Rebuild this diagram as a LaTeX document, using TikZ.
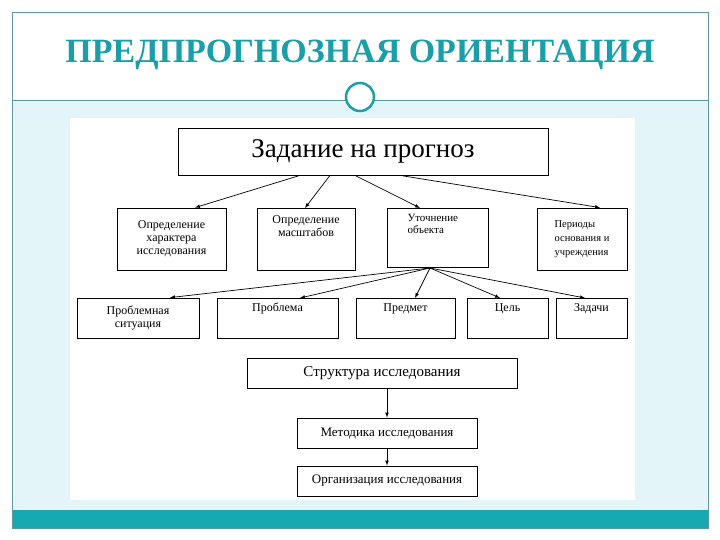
\documentclass[tikz,border=0pt]{standalone}
\usepackage{fontspec}
\setmainfont{Liberation Serif}
\definecolor{teal1}{HTML}{1A9FA8}
\definecolor{bgc}{HTML}{E3F5F8}
\definecolor{framec}{HTML}{5A9AA0}
\begin{document}
\begin{tikzpicture}[x=1pt,y=-1pt,
  bx/.style={draw,line width=0.8pt,fill=white,align=center,inner sep=2pt,font=\fontsize{12}{13}\selectfont},
  ar/.style={-latex,line width=0.7pt}]
\useasboundingbox (0,0) rectangle (720,540);
\fill[white] (0,0) rectangle (720,540);
\fill[bgc] (12,100) rectangle (708,510);
\fill[teal1!90!cyan] (12,510) rectangle (708,528);
\draw[framec,line width=0.6pt] (12,12) rectangle (708,528);
\draw[framec,line width=0.6pt] (12,100) -- (708,100);
\fill[white] (70,118) rectangle (635,500);
\node[draw=teal1,line width=2.5pt,fill=white,circle,minimum size=28pt] (circ) at (360,97) {};
\node[text=teal1,font=\bfseries\fontsize{34}{38}\selectfont] (title) at (360,55) {ПРЕДПРОГНОЗНАЯ ОРИЕНТАЦИЯ};
% boxes
\node[bx,minimum width=370pt,minimum height=47pt,font=\fontsize{27}{30}\selectfont] (top) at (363,151.5) {Задание на прогноз};
\node[bx,minimum width=109pt,minimum height=62pt] (a1) at (171.5,239) {Определение\\характера\\исследования};
\node[bx,minimum width=98pt,minimum height=62pt,anchor=north] (a2) at (306,208) {Определение\\масштабов\\[13pt]};
\node[bx,minimum width=101pt,minimum height=59pt,anchor=north,font=\fontsize{11}{12}\selectfont,align=left] (a3) at (437.5,208) {Уточнение\\объекта\\[16pt]\hspace*{60pt}};
\node[bx,minimum width=90pt,minimum height=62pt,font=\fontsize{10.5}{14}\selectfont,align=left] (a4) at (582,239) {Периоды\\основания и\\учреждения};
\node[bx,minimum width=122pt,minimum height=40pt] (b1) at (138,318) {Проблемная\\ситуация};
\node[bx,minimum width=121pt,minimum height=40pt,anchor=north] (b2) at (277.5,298) {Проблема\\[9pt]};
\node[bx,minimum width=99pt,minimum height=40pt,anchor=north] (b3) at (405.5,298) {Предмет\\[9pt]};
\node[bx,minimum width=81pt,minimum height=40pt,anchor=north] (b4) at (507.5,298) {Цель\\[9pt]};
\node[bx,minimum width=71pt,minimum height=40pt,anchor=north] (b5) at (591.5,298) {Задачи\\[9pt]};
\node[bx,minimum width=270pt,minimum height=30pt,font=\fontsize{15}{16}\selectfont] (c1) at (382,373) {Структура исследования};
\node[bx,minimum width=180pt,minimum height=30pt,font=\fontsize{13}{14}\selectfont] (c2) at (387,433) {Методика исследования};
\node[bx,minimum width=180pt,minimum height=30pt,font=\fontsize{13}{14}\selectfont] (c3) at (387,481) {Организация исследования};
% arrows
\draw[ar] (top.south -| 300,0) -- (a1.north -| 195,0);
\draw[ar] (top.south -| 330,0) -- (a2.north -| 305,0);
\draw[ar] (top.south -| 355,0) -- (a3.north -| 420,0);
\draw[ar] (top.south -| 400,0) -- (a4.north -| 600,0);
\coordinate (hub) at (430,268);
\draw[ar] (hub) -- (b1.north -| 170,0);
\draw[ar] (hub) -- (b2.north -| 300,0);
\draw[ar] (hub) -- (b3.north -| 415,0);
\draw[ar] (hub) -- (b4.north -| 500,0);
\draw[ar] (hub) -- (b5.north -| 585,0);
\draw[ar] (c1.south -| c2.north) -- (c2.north);
\draw[ar] (c2) -- (c3);
\end{tikzpicture}
\end{document}
